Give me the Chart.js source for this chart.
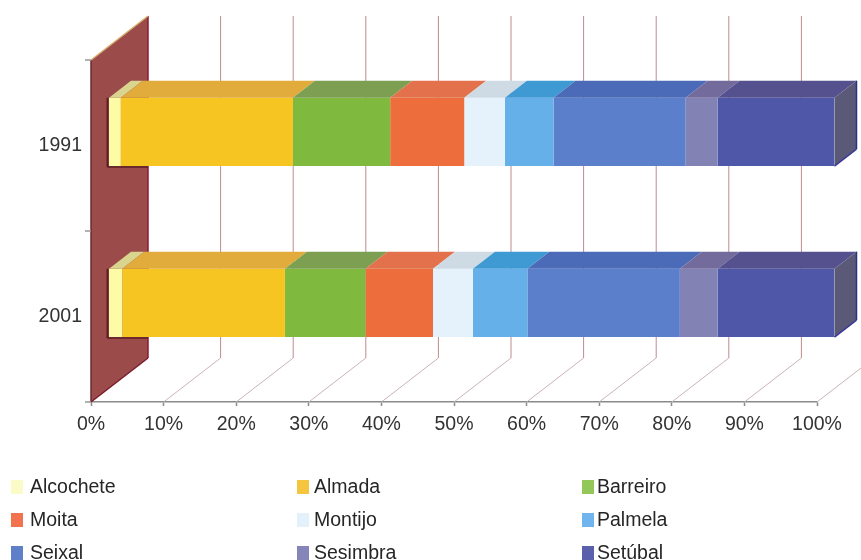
<!DOCTYPE html>
<html><head><meta charset="utf-8">
<style>html,body{margin:0;padding:0;background:#fff}canvas{display:block}</style>
<script src="https://cdn.jsdelivr.net/npm/chart.js@4"></script></head>
<body><canvas id="c" width="861" height="560"></canvas>
<script>
const categories = ['1991','2001'];
const seriesNames = ['Alcochete','Almada','Barreiro','Moita','Montijo','Palmela','Seixal','Sesimbra','Setúbal'];
const alcochete = [1.7,1.9];
const almada = [23.7,22.4];
const barreiro = [13.4,11.1];
const moita = [10.2,9.3];
const montijo = [5.6,5.5];
const palmela = [6.7,7.5];
const seixal = [18.2,21.0];
const sesimbra = [4.4,5.2];
const setubal = [16.1,16.1];
const seriesValues = [alcochete,almada,barreiro,moita,montijo,palmela,seixal,sesimbra,setubal];
const xTicks = [0,10,20,30,40,50,60,70,80,90,100];
const frontColors = ['#fdfba6','#f6c522','#7fba3e','#ee6d3c','#e6f2fb','#66b0ea','#5c7fcc','#8283b4','#4f58a8'];
const topColors = ['#d9d48e','#e2ac3c','#7c9f52','#e2714c','#cfdbe4','#3f9ad4','#4b6bb8','#736b9c','#55518f'];
const legendColors = ['#fbfbc8','#f5c540','#94c75a','#f2744e','#e4f0fa','#6fb4ec','#5f80c8','#8585ba','#5a60ac'];

const WALL = {dx:57, dy:-44};
const BAR = {dx:17.5, dy:-13.6, tx:22, ty:-17};
const FAMILY = '"Liberation Sans", Arial, sans-serif';
const FONT = '19.5px ' + FAMILY;

function poly(ctx, pts, fill, stroke, lw){
  ctx.beginPath(); pts.forEach((p,i)=> i?ctx.lineTo(p[0],p[1]):ctx.moveTo(p[0],p[1])); ctx.closePath();
  if(fill){ctx.fillStyle=fill;ctx.fill();}
  if(stroke){ctx.strokeStyle=stroke;ctx.lineWidth=lw||1;ctx.stroke();}
}
function line(ctx,x0,y0,x1,y1,c,w){ctx.beginPath();ctx.moveTo(x0,y0);ctx.lineTo(x1,y1);ctx.strokeStyle=c;ctx.lineWidth=w||1;ctx.stroke();}

const box3d = {
  id:'box3d',
  beforeDatasetsDraw(chart){
    const {ctx,chartArea:a,scales:{x}} = chart;
    ctx.save();
    xTicks.forEach(t=>{
      const px = x.getPixelForValue(t);
      if(t>0){
        line(ctx,px+WALL.dx,a.top+WALL.dy,px+WALL.dx,a.bottom+WALL.dy,'#bd8b90',1);
        line(ctx,px,a.bottom,px+WALL.dx,a.bottom+WALL.dy,'#c9b4b4',1);
      }
    });
    poly(ctx,[[a.left,a.top],[a.left+WALL.dx,a.top+WALL.dy],[a.left+WALL.dx,a.bottom+WALL.dy],[a.left,a.bottom]],'#9c4b4b');
    line(ctx,a.left,a.top,a.left,a.bottom,'#6e2a30',1.5);
    line(ctx,a.left+WALL.dx,a.top+WALL.dy,a.left+WALL.dx,a.bottom+WALL.dy,'#8a1c30',1.5);
    line(ctx,a.left,a.bottom,a.left+WALL.dx,a.bottom+WALL.dy,'#7a1c2c',1.5);
    line(ctx,a.left,a.top,a.left+WALL.dx,a.top+WALL.dy,'#d8b070',1.5);
    [a.top,(a.top+a.bottom)/2,a.bottom].forEach(y=>line(ctx,a.left-6,y,a.left,y,'#999',1.5));
    const first = chart.getDatasetMeta(0).data;
    first.forEach(el=>{
      const l = el.base+BAR.dx-1.5, t = el.y-el.height/2+BAR.dy, b = el.y+el.height/2+BAR.dy+1;
      line(ctx,l,t,l,b,'#5e1c24',2);
      line(ctx,l,b,a.left+WALL.dx,b,'#5e1c24',1.5);
    });
    ctx.translate(BAR.dx,BAR.dy);
  },
  afterDatasetsDraw(chart){
    const {ctx} = chart;
    const n = chart.data.datasets.length;
    for(let d=0;d<n;d++){
      chart.getDatasetMeta(d).data.forEach(el=>{
        const t = el.y-el.height/2;
        poly(ctx,[[el.base,t],[el.x,t],[el.x+BAR.tx,t+BAR.ty],[el.base+BAR.tx,t+BAR.ty]],topColors[d]);
        if(d===n-1){
          const b = el.y+el.height/2;
          poly(ctx,[[el.x,t],[el.x+BAR.tx,t+BAR.ty],[el.x+BAR.tx,b+BAR.ty],[el.x,b]],'#5a5a78');
          line(ctx,el.x+BAR.tx,t+BAR.ty,el.x+BAR.tx,b+BAR.ty,'#2f2f80',1.5);
          line(ctx,el.x,b,el.x+BAR.tx,b+BAR.ty,'#3a3a98',1.5);
        }
      });
    }
    ctx.restore();
  },
  afterDraw(chart){
    const {ctx} = chart;
    const colX = [[11,30],[297,314],[582,597]];
    const rowY = [487,520,553];
    ctx.save();
    ctx.font = FONT; ctx.textBaseline='middle'; ctx.textAlign='left';
    chart.data.datasets.forEach((ds,i)=>{
      const c = colX[i%3], y = rowY[Math.floor(i/3)];
      ctx.fillStyle = legendColors[i];
      ctx.fillRect(c[0],y-7,12,14);
      ctx.fillStyle = '#262626';
      ctx.fillText(ds.label,c[1],y+1);
    });
    ctx.restore();
  }
};

new Chart(document.getElementById('c'),{
  type:'bar',
  data:{
    labels:categories,
    datasets:seriesNames.map((n,i)=>({label:n,data:seriesValues[i],backgroundColor:frontColors[i],borderWidth:0,categoryPercentage:0.4,barPercentage:1}))
  },
  options:{
    indexAxis:'y',responsive:false,animation:false,
    layout:{padding:{left:0,right:44,top:60,bottom:118}},
    plugins:{legend:{display:false},tooltip:{enabled:false},title:{display:false}},
    scales:{
      x:{stacked:true,min:0,max:100,
        afterFit(s){s.height=40;},
        afterBuildTicks(s){s.ticks=xTicks.map(v=>({value:v}));},
        grid:{drawOnChartArea:false,tickLength:4,tickColor:'#8a8a8a',tickWidth:1.5},
        border:{color:'#8a8a8a',width:1.5},
        ticks:{padding:7,maxRotation:0,autoSkip:false,color:'#333',font:{family:FAMILY,size:19.5},callback:v=>v+'%'}},
      y:{stacked:true,
        afterFit(s){s.width=91;},
        grid:{display:false,drawTicks:false},
        border:{display:false},
        ticks:{padding:9,color:'#333',font:{family:FAMILY,size:19.5}}}
    }
  },
  plugins:[box3d]
});
</script></body></html>
